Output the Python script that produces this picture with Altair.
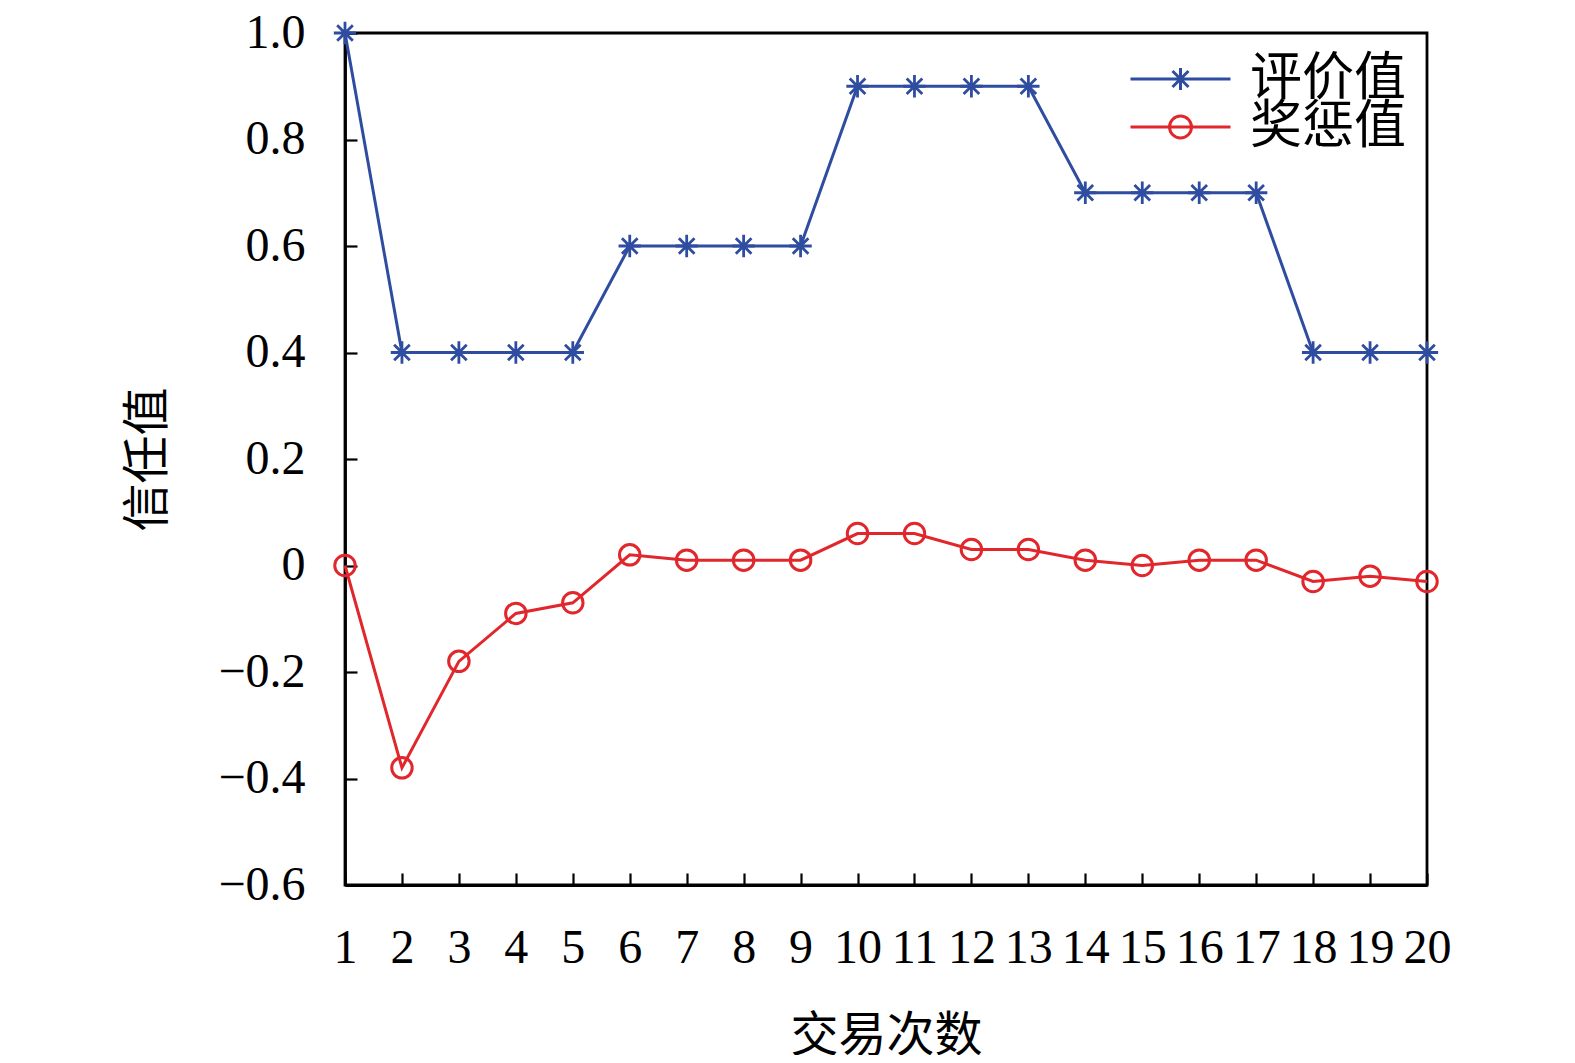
import altair as alt
import pandas as pd

trades = list(range(1, 21))
eval_vals = [1.0, 0.4, 0.4, 0.4, 0.4, 0.6, 0.6, 0.6, 0.6, 0.9,
             0.9, 0.9, 0.9, 0.7, 0.7, 0.7, 0.7, 0.4, 0.4, 0.4]
reward_vals = [0.0, -0.38, -0.18, -0.09, -0.07, 0.02, 0.01, 0.01, 0.01, 0.06,
               0.06, 0.03, 0.03, 0.01, 0.0, 0.01, 0.01, -0.03, -0.02, -0.03]
series_names = ["评价值", "奖惩值"]
x_ticks = list(range(1, 21))
y_ticks = [-0.6, -0.4, -0.2, 0, 0.2, 0.4, 0.6, 0.8, 1.0]

BLUE = "#2f4da0"
RED = "#e1262c"
FONT = "Liberation Serif, Noto Sans CJK SC"
CJK = "Noto Sans CJK SC"

df = pd.DataFrame({"x": trades, "eval": eval_vals, "reward": reward_vals})

xscale = alt.Scale(domain=[1, 20], nice=False, zero=False)
yscale = alt.Scale(domain=[-0.6, 1.0], nice=False, zero=False)

x_main = alt.Axis(orient="bottom", values=x_ticks, ticks=False, grid=False, labelPadding=39,
                  labelFont=FONT, labelFontSize=48, labelColor="black",
                  title="交易次数", titleFont=CJK, titleFontSize=48,
                  titleFontWeight="normal", titleColor="black", titlePadding=40,
                  domainColor="black", domainWidth=2.8, labelFlush=False)
y_main = alt.Axis(orient="left", values=y_ticks, ticks=False, grid=False, labelPadding=40,
                  labelFont=FONT, labelFontSize=48, labelColor="black",
                  labelExpr="datum.value == 0 ? '0' : format(datum.value, '.1f')",
                  title="信任值", titleFont=CJK, titleFontSize=48,
                  titleFontWeight="normal", titleColor="black", titlePadding=45,
                  domainColor="black", domainWidth=2.8, labelFlush=False)
x_ticks_ax = alt.Axis(orient="bottom", values=x_ticks, offset=-12, tickSize=12, tickWidth=2.2,
                      tickColor="black", domain=False, labels=False, title=None, grid=False)
y_ticks_ax = alt.Axis(orient="left", values=y_ticks, offset=-12, tickSize=12, tickWidth=2.2,
                      tickColor="black", domain=False, labels=False, title=None, grid=False)

base = alt.Chart(df)

blue_line = base.mark_line(color=BLUE, strokeWidth=3).encode(
    x=alt.X("x:Q", scale=xscale, axis=x_main),
    y=alt.Y("eval:Q", scale=yscale, axis=y_main),
)
star_path = ("M0,-1L0,1M-1,0L1,0M-0.7,-0.7L0.7,0.7M-0.7,0.7L0.7,-0.7")
blue_pts = base.mark_point(shape=star_path, color=BLUE, filled=False,
                           strokeWidth=2.8, size=500, opacity=1).encode(
    x=alt.X("x:Q", scale=xscale, axis=x_ticks_ax),
    y=alt.Y("eval:Q", scale=yscale, axis=y_ticks_ax),
)
red_line = base.mark_line(color=RED, strokeWidth=3).encode(
    x=alt.X("x:Q", scale=xscale, axis=None),
    y=alt.Y("reward:Q", scale=yscale, axis=None),
)
red_pts = base.mark_point(shape="circle", color=RED, filled=False,
                          strokeWidth=3, size=420, opacity=1).encode(
    x=alt.X("x:Q", scale=xscale, axis=None),
    y=alt.Y("reward:Q", scale=yscale, axis=None),
)

leg_star = ("M-1,0L1,0M0,-0.22L0,0.22M-0.16,-0.16L0.16,0.16M-0.16,0.16L0.16,-0.16")
leg_circle = ("M-1,0L1,0M-0.22,0A0.22,0.22 0 1,0 0.22,0A0.22,0.22 0 1,0 -0.22,0")

leg = alt.Legend(orient="none", legendX=784, legendY=24,
                 title=None, labelFont=CJK, labelFontSize=52,
                 labelColor="black", symbolSize=10000,
                 symbolStrokeWidth=3, symbolOpacity=1,
                 symbolFillColor="transparent",
                 clipHeight=44, rowPadding=-4, labelOffset=18,
                 padding=0)

legend_df = pd.DataFrame({"series": series_names})
legend_layer = alt.Chart(legend_df).transform_filter("false").mark_point(
    filled=False, strokeWidth=3).encode(
    color=alt.Color("series:N",
                    scale=alt.Scale(domain=series_names, range=[BLUE, RED]),
                    legend=leg),
    shape=alt.Shape("series:N",
                    scale=alt.Scale(domain=series_names, range=[leg_star, leg_circle]),
                    legend=leg),
)

chart = alt.layer(blue_line, blue_pts, red_line, red_pts, legend_layer).resolve_axis(
    x="independent", y="independent"
).properties(
    width=1082, height=852,
    background="white",
    autosize=alt.AutoSizeParams(type="none"),
    padding={"left": 337, "top": 25, "right": 100, "bottom": 170},
).configure_view(stroke="black", strokeWidth=2.8)

chart.save("out.html", embed_options={"renderer": "svg", "actions": False})
